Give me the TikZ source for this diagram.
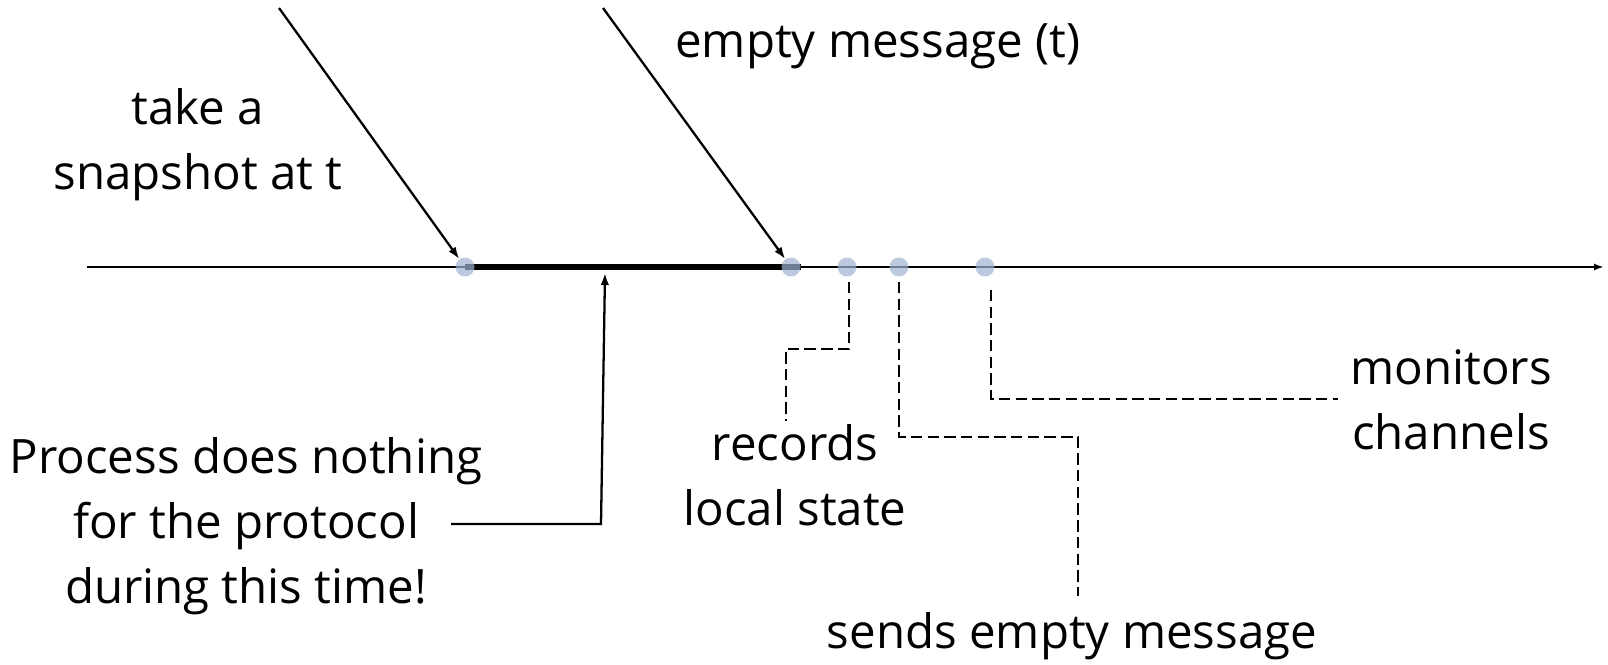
\documentclass[tikz,border=0pt]{standalone}
\usepackage{fontspec}
\setmainfont{Open Sans}
\usetikzlibrary{positioning}
\usetikzlibrary{arrows.meta}
\usetikzlibrary{calc}
\usetikzlibrary{backgrounds}

\definecolor{dotblue}{RGB}{160,178,208}

\begin{document}
\begin{tikzpicture}[x=0.02cm, y=-0.02cm,
    dot/.style={circle, fill=dotblue, fill opacity=0.7, inner sep=0pt, minimum size=0.38cm},
    lbl/.style={align=center, inner sep=0pt, font=\fontsize{27}{37}\selectfont},
    arr/.style={-{Latex[length=0.24cm,width=0.17cm]}, line width=1.3pt},
    link/.style={line width=1.3pt, dash pattern=on 6.5pt off 3pt}]
	\useasboundingbox (0,0) rectangle (1608,665);

	% the events on the time line
	\foreach \i/\x in {1/465, 2/791, 3/847, 4/899, 5/985}
		{\node[dot] (t\i) at (\x,267) {};}

	\begin{pgfonlayer}{background}
		\coordinate (start) at (87,267);
		\coordinate (end) at (1604,267);
		\draw[arr, -{Latex[length=0.2cm,width=0.14cm]}] (start) -- (end);
		\draw[line width=3.2pt] (t1.center) -- (t2.east);
	\end{pgfonlayer}

	% labels
	\node[lbl] (snap) at (198,145) {take a\\snapshot at t};
	\node[lbl, anchor=west] (empty) at (675,46) {empty message (t)};
	\node[lbl] (idle) at (246,526) {Process does nothing\\for the protocol\\during this time!};
	\node[lbl] (rec) at (795,475) {records\\local state};
	\node[lbl] (send) at (1072,636) {sends empty message};
	\node[lbl] (mon) at (1451,400) {monitors\\channels};

	% arrows into the line
	\coordinate (a1) at (279,8);
	\coordinate (a2) at (603,8);
	\draw[arr] (a1) -- (t1);
	\draw[arr] (a2) -- (t2);

	\coordinate (idleA) at (451,524);
	\coordinate (idleB) at (601,524);
	\coordinate (idleC) at (605,273);
	\draw[arr] (idleA) -- (idleB) -- (idleC);

	% dashed leaders
	\draw[link] ($(t3.south)+(2,5)$) -- ++(0,67) -- ++(-63,0) -- ++(0,72);
	\draw[link] ($(t4.south)+(0,5)$) -- ++(0,155) -- ++(179,0) -- ++(0,159);
	\draw[link] ($(t5.south)+(6,13)$) -- ++(0,109) -- ++(347,0);
\end{tikzpicture}
\end{document}
